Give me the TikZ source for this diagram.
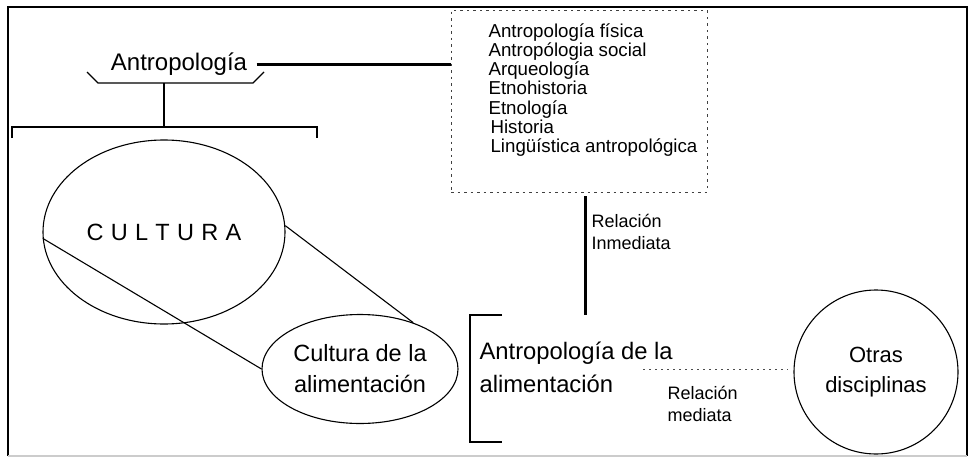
\documentclass[tikz,border=0pt]{standalone}
\usepackage{fontspec}
\setmainfont{Liberation Sans}
\usetikzlibrary{shapes.geometric}
\newcommand{\cgap}{\hspace{7.3pt}}
\begin{document}
\begin{tikzpicture}[
        x=1pt, y=-1pt,
        line width=1.1pt,
        font=\fontsize{22}{30}\selectfont
    ]
    \tikzset{
        bigtext/.style = {align=center, inner sep=0pt},
        oval/.style = {ellipse, draw=black, line width=1.1pt, inner sep=0pt, align=center},
        listtext/.style = {align=left, anchor=west, inner sep=0pt, font=\fontsize{18.7}{19.3}\selectfont},
        reltext/.style = {align=left, anchor=west, inner sep=0pt, font=\fontsize{18}{21.5}\selectfont},
        listbox/.style = {draw=black!75, line width=0.7pt, dash pattern=on 2.5pt off 4pt,
                          minimum width=256pt, minimum height=182pt, inner sep=0pt},
        heavy/.style = {-, line width=3pt},
        thin/.style = {-, line width=1.1pt},
        dotline/.style = {-, line width=0.8pt, dash pattern=on 2pt off 4pt, black!70},
    }
    \useasboundingbox (0,0) rectangle (972,458);
    % marco
    \draw[thin] (8,456) -- (8,7) -- (967,7) -- (967,456);
    \draw[thin, black!20] (8,456) -- (967,456);
    %
    \node[bigtext, font=\fontsize{24}{30}\selectfont] at (179,64) (antro) {Antropología};
    \node[listbox] at (579,101) (ramas) {};
    \node[listtext] at (488,90) (lista) {Antropología física\\
        Antropólogia social\\
        Arqueología\\
        Etnohistoria\\
        Etnología\\
        \hspace*{2pt}Historia\\
        \hspace*{2pt}Lingüística antropológica};
    \draw[heavy, shorten <=9pt] (antro.east) -- (antro.east -| ramas.west);
    %
    \draw[thin] (87,72) -- (98,83) -- (253,83) -- (264,72);
    \coordinate (llave) at (164,83);
    \coordinate (corchete) at (164,127);
    \draw[thin] (llave) -- (corchete);
    \draw[thin] (12,138) -- (12,127) -- (317,127) -- (317,138);
    %
    \node[oval, minimum width=242pt, minimum height=184pt, font=\fontsize{23.5}{30}\selectfont]
        at (164,232) (cultura) {C\cgap U\cgap L\cgap T\cgap U\cgap R\cgap A};
    \node[oval, minimum width=196pt, minimum height=109pt, font=\fontsize{23.5}{31}\selectfont]
        at (360,369) (alim) {Cultura de la\\alimentación};
    \draw[thin] (cultura.183) -- (alim.180);
    \draw[thin] (cultura.3) -- (alim.41);
    %
    \draw[thin] (502,315) -- (470,315) -- (470,442) -- (502,442);
    \node[bigtext, anchor=west, align=left, font=\fontsize{23.8}{33}\selectfont]
        at (479,367) (antroalim) {Antropología de la\\alimentación};
    %
    \coordinate (inmtop) at (585,196);
    \coordinate (inmbot) at (585,315);
    \draw[heavy] (inmtop) -- (inmbot);
    \node[reltext] at (591,232) (inmediata) {Relación\\Inmediata};
    %
    \node[oval, minimum width=164pt, minimum height=164pt] at (876,372) (otras) {Otras\\disciplinas};
    \coordinate (medstart) at (643,369);
    \draw[dotline, shorten >=6pt] (medstart) -- (medstart -| otras.west);
    \node[reltext] at (667,404) (mediata) {Relación\\mediata};
\end{tikzpicture}
\end{document}
